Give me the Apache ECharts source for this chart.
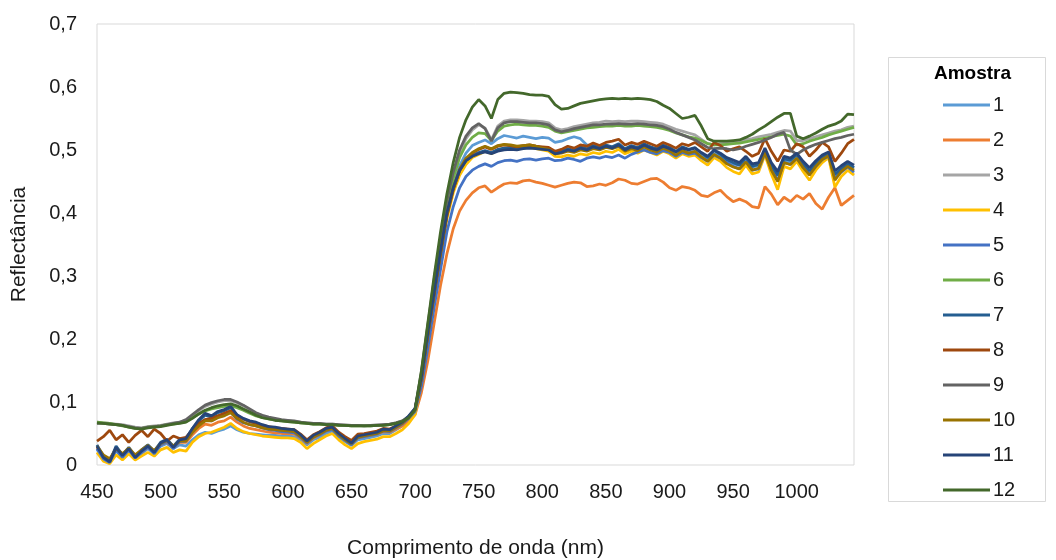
<!DOCTYPE html>
<html>
<head>
<meta charset="utf-8">
<script src="https://cdn.jsdelivr.net/npm/echarts@6/dist/echarts.min.js"></script>
<style>
  html, body { margin: 0; padding: 0; background: #fff; }
  #main { width: 1056px; height: 560px; }
</style>
</head>
<body>
<div id="main"></div>
<script>
// comprimento de onda (nm)
const wavelength = [
  450,455,460,465,470,475,480,485,490,495,
  500,505,510,515,520,525,530,535,540,545,
  550,555,560,565,570,575,580,585,590,595,
  600,605,610,615,620,625,630,635,640,645,
  650,655,660,665,670,675,680,685,690,695,
  700,705,710,715,720,725,730,735,740,745,
  750,755,760,765,770,775,780,785,790,795,
  800,805,810,815,820,825,830,835,840,845,
  850,855,860,865,870,875,880,885,890,895,
  900,905,910,915,920,925,930,935,940,945,
  950,955,960,965,970,975,980,985,990,995,
  1000,1005,1010,1015,1020,1025,1030,1035,1040,1045
];
const xTicks = [450,500,550,600,650,700,750,800,850,900,950,1000];
const yTicks = [0,0.1,0.2,0.3,0.4,0.5,0.6,0.7];
const names = ['1','2','3','4','5','6','7','8','9','10','11','12'];
const colors = ['#5B9BD5','#ED7D31','#A5A5A5','#FFC000','#4472C4','#70AD47',
                '#255E91','#9E480E','#636363','#997300','#264478','#43682B'];

const s1 = [
  0.025,0.010,0.006,0.022,0.012,0.020,0.010,0.018,0.026,0.018,
  0.030,0.034,0.026,0.032,0.030,0.040,0.048,0.052,0.050,0.054,
  0.057,0.062,0.056,0.052,0.050,0.049,0.048,0.047,0.047,0.046,
  0.046,0.045,0.040,0.032,0.040,0.044,0.050,0.054,0.044,0.037,
  0.031,0.040,0.042,0.044,0.046,0.050,0.050,0.056,0.062,0.072,
  0.085,0.135,0.205,0.270,0.335,0.398,0.443,0.475,0.495,0.507,
  0.512,0.516,0.510,0.518,0.523,0.521,0.519,0.522,0.520,0.518,
  0.520,0.519,0.512,0.514,0.518,0.521,0.518,0.508,0.507,0.505,
  0.507,0.504,0.505,0.500,0.503,0.501,0.504,0.500,0.497,0.502,
  0.498,0.494,0.499,0.496,0.498,0.490,0.485,0.494,0.490,0.483,
  0.478,0.476,0.486,0.473,0.475,0.497,0.474,0.460,0.484,0.481,
  0.490,0.478,0.468,0.479,0.488,0.492,0.462,0.470,0.477,0.472
];
const s2 = [
  0.028,0.014,0.008,0.025,0.016,0.024,0.014,0.020,0.028,0.020,
  0.032,0.036,0.027,0.036,0.036,0.048,0.058,0.065,0.063,0.068,
  0.070,0.076,0.068,0.062,0.058,0.056,0.054,0.052,0.051,0.050,
  0.050,0.049,0.043,0.034,0.043,0.048,0.054,0.057,0.047,0.039,
  0.033,0.043,0.045,0.047,0.049,0.053,0.052,0.057,0.062,0.070,
  0.080,0.115,0.165,0.225,0.285,0.335,0.375,0.403,0.420,0.432,
  0.440,0.443,0.433,0.440,0.446,0.448,0.447,0.451,0.452,0.449,
  0.447,0.444,0.441,0.444,0.447,0.449,0.448,0.442,0.443,0.446,
  0.444,0.448,0.454,0.452,0.447,0.446,0.450,0.454,0.455,0.449,
  0.440,0.436,0.442,0.440,0.436,0.428,0.426,0.432,0.436,0.426,
  0.418,0.422,0.418,0.410,0.408,0.442,0.430,0.413,0.425,0.418,
  0.428,0.422,0.431,0.415,0.406,0.425,0.440,0.412,0.420,0.428
];
const s3 = [
  0.068,0.067,0.066,0.065,0.064,0.062,0.060,0.059,0.061,0.062,
  0.063,0.065,0.067,0.068,0.071,0.078,0.086,0.093,0.097,0.100,
  0.102,0.102,0.099,0.094,0.088,0.082,0.078,0.075,0.073,0.071,
  0.070,0.069,0.068,0.067,0.066,0.066,0.065,0.065,0.064,0.064,
  0.063,0.063,0.063,0.063,0.064,0.064,0.065,0.067,0.070,0.076,
  0.088,0.145,0.218,0.290,0.355,0.415,0.460,0.495,0.518,0.532,
  0.540,0.535,0.516,0.538,0.546,0.548,0.548,0.547,0.546,0.546,
  0.545,0.543,0.535,0.532,0.534,0.537,0.539,0.541,0.543,0.544,
  0.546,0.545,0.546,0.545,0.546,0.546,0.545,0.544,0.543,0.541,
  0.537,0.533,0.530,0.527,0.524,0.517,0.510,0.508,0.510,0.511,
  0.512,0.514,0.516,0.518,0.521,0.523,0.525,0.528,0.531,0.530,
  0.515,0.515,0.518,0.521,0.524,0.527,0.530,0.532,0.536,0.538
];
const s4 = [
  0.020,0.006,0.002,0.016,0.008,0.018,0.008,0.014,0.020,0.014,
  0.024,0.028,0.020,0.024,0.022,0.036,0.045,0.050,0.052,0.056,
  0.060,0.066,0.058,0.053,0.050,0.048,0.046,0.045,0.044,0.043,
  0.043,0.042,0.036,0.026,0.034,0.040,0.046,0.050,0.040,0.032,
  0.026,0.034,0.037,0.039,0.041,0.045,0.045,0.050,0.056,0.066,
  0.080,0.130,0.200,0.265,0.330,0.390,0.432,0.460,0.477,0.488,
  0.493,0.498,0.494,0.500,0.503,0.503,0.501,0.503,0.504,0.502,
  0.500,0.498,0.490,0.489,0.492,0.490,0.494,0.492,0.496,0.494,
  0.498,0.496,0.501,0.494,0.498,0.495,0.500,0.496,0.492,0.498,
  0.494,0.487,0.494,0.490,0.492,0.483,0.476,0.488,0.482,0.472,
  0.466,0.462,0.476,0.462,0.465,0.492,0.462,0.437,0.474,0.470,
  0.482,0.466,0.452,0.468,0.480,0.488,0.441,0.458,0.468,0.460
];
const s5 = [
  0.026,0.010,0.004,0.024,0.012,0.024,0.011,0.020,0.028,0.018,
  0.032,0.037,0.026,0.037,0.038,0.052,0.064,0.072,0.070,0.076,
  0.079,0.084,0.073,0.067,0.064,0.062,0.059,0.056,0.055,0.053,
  0.052,0.051,0.044,0.035,0.044,0.048,0.054,0.056,0.046,0.039,
  0.032,0.043,0.045,0.047,0.049,0.054,0.053,0.059,0.065,0.074,
  0.085,0.125,0.185,0.250,0.310,0.370,0.410,0.440,0.458,0.468,
  0.474,0.478,0.474,0.480,0.483,0.484,0.482,0.485,0.486,0.484,
  0.486,0.487,0.483,0.484,0.487,0.485,0.482,0.487,0.489,0.487,
  0.490,0.488,0.492,0.487,0.493,0.497,0.500,0.496,0.494,0.499,
  0.496,0.490,0.496,0.493,0.495,0.488,0.482,0.492,0.487,0.480,
  0.474,0.470,0.482,0.468,0.470,0.495,0.470,0.452,0.480,0.477,
  0.487,0.473,0.462,0.474,0.485,0.490,0.455,0.465,0.473,0.465
];
const s6 = [
  0.068,0.067,0.066,0.064,0.062,0.060,0.058,0.058,0.060,0.061,
  0.062,0.064,0.065,0.067,0.069,0.075,0.081,0.086,0.089,0.091,
  0.093,0.094,0.091,0.087,0.082,0.078,0.075,0.073,0.071,0.070,
  0.069,0.068,0.067,0.066,0.065,0.065,0.064,0.064,0.063,0.063,
  0.062,0.062,0.062,0.062,0.063,0.063,0.064,0.066,0.069,0.075,
  0.087,0.145,0.215,0.285,0.350,0.410,0.455,0.488,0.508,0.520,
  0.527,0.526,0.515,0.530,0.538,0.540,0.541,0.540,0.539,0.539,
  0.538,0.536,0.530,0.527,0.529,0.531,0.533,0.535,0.536,0.537,
  0.538,0.538,0.539,0.538,0.538,0.539,0.538,0.537,0.536,0.534,
  0.531,0.527,0.524,0.521,0.519,0.515,0.510,0.508,0.508,0.509,
  0.510,0.511,0.513,0.515,0.517,0.519,0.521,0.523,0.525,0.522,
  0.508,0.510,0.514,0.517,0.520,0.524,0.527,0.530,0.533,0.536
];
const s7 = [
  0.032,0.014,0.006,0.030,0.016,0.028,0.014,0.024,0.032,0.022,
  0.036,0.041,0.030,0.041,0.043,0.058,0.070,0.079,0.076,0.083,
  0.086,0.091,0.079,0.073,0.069,0.067,0.063,0.060,0.059,0.057,
  0.056,0.055,0.047,0.037,0.046,0.051,0.057,0.059,0.049,0.041,
  0.034,0.045,0.047,0.049,0.051,0.056,0.055,0.061,0.067,0.077,
  0.089,0.138,0.207,0.272,0.337,0.397,0.438,0.467,0.483,0.491,
  0.496,0.499,0.496,0.501,0.503,0.504,0.503,0.505,0.506,0.504,
  0.503,0.502,0.496,0.498,0.502,0.500,0.505,0.502,0.507,0.504,
  0.508,0.505,0.510,0.502,0.507,0.504,0.510,0.505,0.502,0.508,
  0.504,0.498,0.505,0.501,0.504,0.495,0.488,0.499,0.493,0.485,
  0.480,0.476,0.488,0.474,0.477,0.500,0.476,0.460,0.486,0.484,
  0.493,0.478,0.467,0.479,0.489,0.494,0.461,0.470,0.478,0.472
];
const s8 = [
  0.038,0.045,0.055,0.040,0.048,0.036,0.047,0.055,0.045,0.057,
  0.050,0.038,0.046,0.042,0.044,0.055,0.066,0.072,0.074,0.078,
  0.082,0.086,0.078,0.073,0.069,0.066,0.063,0.061,0.059,0.058,
  0.057,0.056,0.049,0.040,0.048,0.053,0.059,0.062,0.052,0.045,
  0.039,0.049,0.050,0.052,0.054,0.058,0.057,0.062,0.067,0.076,
  0.088,0.137,0.205,0.270,0.335,0.395,0.437,0.467,0.485,0.495,
  0.501,0.505,0.501,0.506,0.508,0.507,0.505,0.507,0.508,0.506,
  0.505,0.504,0.498,0.501,0.506,0.503,0.508,0.506,0.511,0.507,
  0.512,0.514,0.517,0.508,0.512,0.509,0.514,0.510,0.506,0.512,
  0.508,0.503,0.510,0.507,0.512,0.505,0.498,0.512,0.507,0.498,
  0.502,0.505,0.498,0.490,0.495,0.518,0.498,0.482,0.500,0.498,
  0.510,0.505,0.490,0.500,0.512,0.505,0.482,0.495,0.510,0.517
];
const s9 = [
  0.066,0.066,0.065,0.064,0.063,0.061,0.059,0.058,0.060,0.061,
  0.062,0.064,0.066,0.068,0.072,0.080,0.088,0.095,0.099,0.102,
  0.104,0.104,0.100,0.095,0.089,0.083,0.079,0.076,0.074,0.072,
  0.071,0.070,0.068,0.067,0.066,0.066,0.065,0.065,0.064,0.063,
  0.063,0.063,0.062,0.063,0.063,0.064,0.065,0.067,0.070,0.077,
  0.090,0.148,0.222,0.295,0.360,0.420,0.465,0.500,0.522,0.535,
  0.542,0.534,0.514,0.535,0.543,0.545,0.545,0.544,0.543,0.543,
  0.542,0.540,0.532,0.529,0.531,0.534,0.536,0.538,0.540,0.540,
  0.541,0.541,0.542,0.541,0.541,0.542,0.541,0.540,0.539,0.537,
  0.533,0.528,0.524,0.520,0.516,0.510,0.504,0.502,0.503,0.502,
  0.500,0.502,0.506,0.509,0.512,0.516,0.520,0.525,0.528,0.500,
  0.493,0.500,0.505,0.509,0.512,0.515,0.518,0.520,0.523,0.525
];
const s10 = [
  0.030,0.016,0.010,0.026,0.018,0.027,0.016,0.024,0.031,0.023,
  0.034,0.039,0.030,0.038,0.038,0.052,0.062,0.070,0.070,0.075,
  0.078,0.083,0.074,0.068,0.064,0.062,0.059,0.057,0.056,0.055,
  0.054,0.053,0.045,0.036,0.044,0.049,0.055,0.058,0.048,0.040,
  0.034,0.044,0.046,0.048,0.050,0.054,0.054,0.060,0.066,0.076,
  0.088,0.137,0.206,0.272,0.337,0.398,0.440,0.470,0.487,0.496,
  0.502,0.506,0.502,0.507,0.509,0.508,0.506,0.507,0.508,0.506,
  0.503,0.501,0.494,0.495,0.498,0.496,0.500,0.498,0.502,0.500,
  0.504,0.502,0.506,0.498,0.502,0.499,0.505,0.500,0.497,0.503,
  0.499,0.492,0.499,0.495,0.498,0.489,0.482,0.493,0.487,0.478,
  0.473,0.470,0.481,0.468,0.471,0.496,0.468,0.450,0.480,0.477,
  0.487,0.472,0.460,0.474,0.485,0.491,0.452,0.466,0.474,0.468
];
const s11 = [
  0.030,0.012,0.005,0.028,0.015,0.026,0.012,0.022,0.030,0.020,
  0.035,0.040,0.028,0.040,0.042,0.058,0.072,0.082,0.078,0.085,
  0.088,0.093,0.080,0.074,0.070,0.068,0.064,0.061,0.060,0.058,
  0.057,0.056,0.048,0.038,0.047,0.052,0.058,0.060,0.050,0.042,
  0.035,0.046,0.048,0.050,0.052,0.057,0.056,0.062,0.068,0.078,
  0.090,0.140,0.210,0.275,0.340,0.400,0.440,0.468,0.483,0.490,
  0.494,0.497,0.494,0.498,0.500,0.501,0.500,0.502,0.503,0.502,
  0.501,0.500,0.494,0.496,0.500,0.498,0.503,0.500,0.505,0.502,
  0.506,0.503,0.508,0.500,0.505,0.502,0.508,0.503,0.500,0.506,
  0.502,0.497,0.503,0.500,0.503,0.496,0.490,0.500,0.495,0.488,
  0.484,0.480,0.490,0.478,0.480,0.503,0.480,0.466,0.490,0.487,
  0.495,0.482,0.472,0.483,0.492,0.497,0.467,0.475,0.482,0.476
];
const s12 = [
  0.067,0.066,0.065,0.064,0.063,0.060,0.058,0.057,0.059,0.060,
  0.061,0.063,0.065,0.066,0.068,0.074,0.081,0.087,0.091,0.094,
  0.096,0.097,0.094,0.089,0.084,0.079,0.075,0.073,0.071,0.070,
  0.069,0.068,0.067,0.066,0.065,0.065,0.064,0.064,0.063,0.063,
  0.062,0.062,0.062,0.062,0.063,0.063,0.064,0.066,0.069,0.075,
  0.088,0.150,0.225,0.300,0.370,0.430,0.480,0.520,0.548,0.568,
  0.580,0.570,0.550,0.580,0.590,0.592,0.591,0.590,0.588,0.587,
  0.587,0.585,0.572,0.565,0.566,0.570,0.574,0.576,0.578,0.580,
  0.581,0.582,0.581,0.582,0.581,0.582,0.581,0.580,0.577,0.571,
  0.566,0.558,0.550,0.552,0.555,0.538,0.518,0.514,0.514,0.514,
  0.515,0.516,0.520,0.525,0.532,0.538,0.545,0.552,0.558,0.558,
  0.522,0.518,0.522,0.527,0.533,0.538,0.541,0.546,0.557,0.556
];
const allSeries = [s1,s2,s3,s4,s5,s6,s7,s8,s9,s10,s11,s12];

var myChart = echarts.init(document.getElementById('main'));
const font = "'Liberation Sans', Arial, sans-serif";

option = {
    animation: false,
    backgroundColor: '#fff',
    grid: {
        left: 97, right: 202, top: 24, bottom: 95,
        outerBoundsMode: 'none',
        show: true,
        borderColor: '#d9d9d9',
        borderWidth: 1
    },
    legend: {
        orient: 'vertical',
        left: 938,
        top: 90,
        icon: 'rect',
        itemWidth: 47,
        itemHeight: 3,
        itemGap: 15,
        data: names,
        textStyle: { fontFamily: font, fontSize: 20, color: '#1a1a1a', lineHeight: 20, padding: [0, 0, 0, -2] }
    },
    graphic: [
        { type: 'rect', shape: { x: 888.5, y: 57.5, width: 157, height: 444 },
          style: { fill: 'none', stroke: '#d9d9d9', lineWidth: 1 } },
        { type: 'text', left: 934, top: 64,
          style: { text: 'Amostra', font: 'bold 19px ' + font, fill: '#000' } }
    ],
    xAxis: {
        type: 'value',
        min: 450, max: 1045, interval: 50,
        name: 'Comprimento de onda (nm)',
        nameLocation: 'middle',
        nameGap: 73,
        nameTextStyle: { fontFamily: font, fontSize: 21, color: '#1a1a1a' },
        axisLine: { show: false },
        axisTick: { show: false },
        splitLine: { show: false },
        axisLabel: {
            fontFamily: font, fontSize: 20, color: '#1a1a1a', margin: 17,
            customValues: xTicks,
            formatter: function (v) { return String(v); }
        }
    },
    yAxis: {
        type: 'value',
        min: 0, max: 0.7, interval: 0.1,
        name: 'Reflectância',
        nameLocation: 'middle',
        nameGap: 67,
        nameTextStyle: { fontFamily: font, fontSize: 21, color: '#1a1a1a' },
        axisLine: { show: false },
        axisTick: { show: false },
        splitLine: { show: false },
        axisLabel: {
            fontFamily: font, fontSize: 20, color: '#1a1a1a', margin: 20,
            customValues: yTicks,
            formatter: function (v) {
                return v === 0 ? '0' : v.toFixed(1).replace('.', ',');
            }
        }
    },
    series: allSeries.map(function (vals, k) {
        return {
            name: names[k],
            type: 'line',
            symbol: 'none',
            color: colors[k],
            lineStyle: { width: 2.75, color: colors[k] },
            data: wavelength.map(function (w, i) { return [w, vals[i]]; })
        };
    })
};
myChart.setOption(option);
</script>
</body>
</html>
